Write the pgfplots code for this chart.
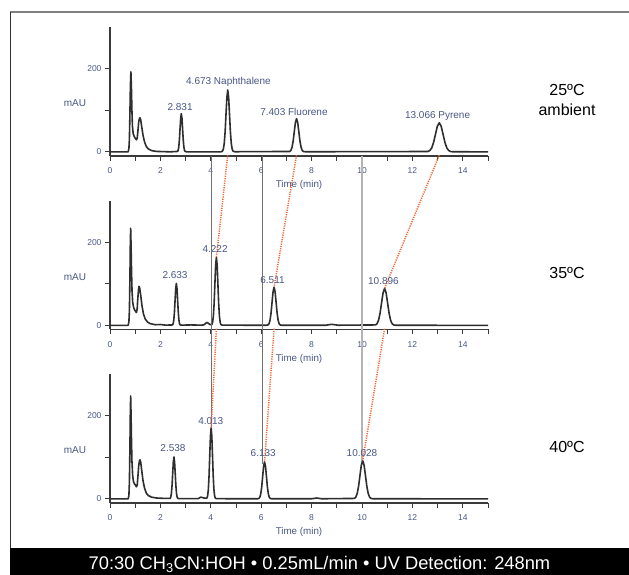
\documentclass[border=0pt]{standalone}
\usepackage{fontspec}
\setmainfont{Liberation Sans}
\usepackage{pgfplots}
\pgfplotsset{compat=1.18}
\definecolor{trace}{HTML}{2E2E2E}
\definecolor{lab}{HTML}{4A5785}
\definecolor{orng}{HTML}{F26B3A}
\definecolor{vgray}{HTML}{707070}
\definecolor{vlight}{HTML}{B4B4B4}
\definecolor{framegray}{HTML}{808080}
\definecolor{axisc}{HTML}{3A3A3A}
\pgfplotsset{chrom/.style={
  scale only axis, width=378pt, height=128.65pt,
  xmin=0, xmax=15, ymin=-10, ymax=300,
  axis x line*=bottom, axis y line*=left,
  axis line style={color=axisc, line width=1.2pt},
  xtick={0,2,...,14}, minor xtick={1,3,...,15},
  ytick={0,100,200}, yticklabels={0,,200},
  tick align=outside, major tick length=5pt, minor tick length=5pt,
  tick style={color=axisc, line width=1pt},
  ticklabel style={font=\fontsize{8.5}{9}\selectfont, text=lab},
  xticklabel style={yshift=-3.5pt},
  /pgf/number format/assume math mode=true,
  clip=false,
  xlabel={Time (min)},
  xlabel style={font=\fontsize{9.8}{10}\selectfont, text=lab, at={(axis description cs:0.5,0)}, anchor=center, yshift=-29pt},
  anchor=south west,
}}
\tikzset{ann/.style={font=\fontsize{10}{11}\selectfont, text=lab, anchor=center},
         tr/.style={color=trace, line width=1.6pt, line join=round, mark=none},
         orl/.style={color=orng, line width=1.5pt, dash pattern=on 1.2pt off 1.1pt, mark=none},
         right/.style={font=\fontsize{16}{17}\selectfont, anchor=base}}
\begin{document}
\begin{tikzpicture}
\useasboundingbox (0,0) rectangle (629pt,575pt);
\fill[white] (0,0) rectangle (629pt,575pt);
\draw[framegray, line width=1.5pt] (10pt,563pt) -- (629pt,563pt);
\draw[black!80, line width=1pt] (10pt,563pt) -- (10pt,27pt);
\fill[black] (10pt,0pt) rectangle (629pt,27pt);
\node[white, font=\fontsize{18.3}{19}\selectfont, anchor=base] at (319.5pt,5pt) {70:30 CH\textsubscript{3}CN:HOH • 0.25mL/min • UV Detection: 248nm};
\node[right] at (567pt,479.3pt) {25ºC};
\node[right] at (567pt,459pt) {ambient};
\node[right] at (567pt,296pt) {35ºC};
\node[right] at (567pt,122.7pt) {40ºC};

% Panel 1 (25 C)
\begin{axis}[chrom, at={(110pt,419pt)}]
\addplot[tr] coordinates {(0,0)(0.5,0)(0.72,0)(0.75,8)(0.77,30)(0.79,90)(0.81,160)(0.83,193)(0.85,155)(0.87,100)(0.89,62)(0.92,44)(0.96,37)(1.0,33)(1.05,29)(1.08,33)(1.11,52)(1.14,72)(1.17,81)(1.19,82)(1.22,77)(1.26,60)(1.31,40)(1.37,24)(1.44,13)(1.52,7)(1.65,3)(1.85,1)(2.4,0)
(2.68,1)(2.705,4)(2.73,12)(2.755,30)(2.78,56)(2.805,81)(2.83,92)(2.855,81)(2.88,56)(2.905,30)(2.93,12)(2.955,4)(2.98,1)(3.05,0)
(4.40,0)(4.463,1.7)(4.498,6.5)(4.533,20)(4.568,48)(4.603,90)(4.638,131)(4.673,149)(4.708,131)(4.743,90)(4.778,48)(4.813,20)(4.848,6.5)(4.883,1.7)(4.95,0.3)
(7.133,0.9)(7.178,3.5)(7.223,10.8)(7.268,26)(7.313,48.5)(7.358,70.6)(7.403,80)(7.448,70.6)(7.493,48.5)(7.538,26)(7.583,10.8)(7.628,3.5)(7.673,0.9)(7.75,0.2)
(12.616,0.8)(12.691,3.1)(12.766,9.5)(12.841,22.7)(12.916,42.5)(12.991,61.8)(13.066,70)(13.141,61.8)(13.216,42.5)(13.291,22.7)(13.366,9.5)(13.441,3.1)(13.516,0.8)(13.6,0.2)(15,0)};
\node[ann] at (axis cs:2.78,108) {2.831};
\node[ann] at (axis cs:4.7,169) {4.673 Naphthalene};
\node[ann] at (axis cs:7.3,96) {7.403 Fluorene};
\node[ann] at (axis cs:13.0,87) {13.066 Pyrene};
\node[ann] at (rel axis cs:0,0.41) [xshift=-35pt] {mAU};
\end{axis}

% Panel 2 (35 C)
\begin{axis}[chrom, at={(110pt,245.5pt)}]
\addplot[tr] coordinates {(0,0)(0.72,0)(0.75,8)(0.77,35)(0.79,110)(0.805,190)(0.82,234)(0.835,195)(0.855,130)(0.875,82)(0.9,56)(0.93,45)(0.97,38)(1.01,34)(1.05,31)(1.08,40)(1.1,62)(1.13,85)(1.15,94)(1.18,89)(1.22,72)(1.27,47)(1.33,27)(1.4,15)(1.49,8)(1.6,4)(1.8,1.5)(2.0,2)(2.2,0.5)
(2.483,1)(2.508,4.4)(2.533,13.7)(2.558,32.8)(2.583,61.3)(2.608,89)(2.633,101)(2.658,89)(2.683,61.3)(2.708,32.8)(2.733,13.7)(2.758,4.4)(2.783,1.1)(2.85,0.5)(3.2,1)(3.6,0.5)(3.72,1)(3.8,5)(3.85,7)(3.9,5)(3.96,2)
(4.042,2)(4.072,7.2)(4.102,22.2)(4.132,53.3)(4.162,99.5)(4.192,144.7)(4.222,164)(4.252,144.7)(4.282,99.5)(4.312,53.3)(4.342,22.2)(4.372,7.2)(4.402,1.8)(4.46,0.4)
(6.2,0.3)(6.271,1)(6.311,4)(6.351,12.4)(6.391,29.9)(6.431,55.8)(6.471,81.2)(6.511,92)(6.551,81.2)(6.591,55.8)(6.631,29.9)(6.671,12.4)(6.711,4)(6.751,1)(6.82,0.2)(8.55,0.2)(8.8,2.5)(9.05,0.3)
(10.536,1)(10.596,3.9)(10.656,12)(10.716,28.9)(10.776,54)(10.836,78.5)(10.896,89)(10.956,78.5)(11.016,54)(11.076,28.9)(11.136,12)(11.196,3.9)(11.256,1)(11.34,0.2)(15,0)};
\addplot[orl] coordinates {(4.673,410)(4.222,164)};
\addplot[orl] coordinates {(7.403,410)(6.511,92)};
\addplot[orl] coordinates {(13.066,410)(10.896,89)};
\node[ann] at (axis cs:2.58,120) {2.633};
\node[ann] at (axis cs:4.17,185) {4.222};
\node[ann] at (axis cs:6.45,109) {6.511};
\node[ann] at (axis cs:10.85,106) {10.896};
\node[ann] at (rel axis cs:0,0.41) [xshift=-35pt] {mAU};
\end{axis}

% Panel 3 (40 C)
\begin{axis}[chrom, at={(110pt,72pt)}]
\addplot[vgray, line width=1.3pt, mark=none] coordinates {(4.02,826)(4.02,165)};
\addplot[vgray, line width=1.3pt, mark=none] coordinates {(6.06,826)(6.06,85)};
\addplot[vlight, line width=1.3pt, mark=none] coordinates {(10.0,826)(10.0,88)};
\addplot[tr] coordinates {(0,0)(0.72,0)(0.75,8)(0.77,40)(0.79,120)(0.805,200)(0.82,248)(0.835,205)(0.85,150)(0.87,92)(0.9,56)(0.93,42)(0.97,36)(1.01,33)(1.05,29)(1.08,33)(1.11,56)(1.14,80)(1.17,92)(1.19,94)(1.22,88)(1.26,68)(1.31,44)(1.37,26)(1.44,14)(1.52,8)(1.65,4)(1.85,2)(2.2,1)
(2.388,1.1)(2.413,4.4)(2.438,13.7)(2.463,32.8)(2.488,61.3)(2.513,89)(2.538,101)(2.563,89)(2.588,61.3)(2.613,32.8)(2.638,13.7)(2.663,4.4)(2.688,1.1)(2.75,0.5)(3.5,0.5)(3.6,4)(3.68,3)(3.76,1.5)
(3.848,1.9)(3.8755,7.5)(3.903,23.1)(3.9305,55.5)(3.958,103.7)(3.9855,150.9)(4.013,171)(4.0405,150.9)(4.068,103.7)(4.0955,55.5)(4.123,23.1)(4.1505,7.5)(4.178,1.9)(4.23,0.4)
(5.85,0.2)(5.908,1)(5.9455,3.9)(5.983,12)(6.0205,28.9)(6.058,54)(6.0955,78.5)(6.133,89)(6.1705,78.5)(6.208,54)(6.2455,28.9)(6.283,12)(6.3205,3.9)(6.358,1)(6.42,0.2)(8.0,0.2)(8.2,2)(8.4,0.2)
(9.698,1)(9.753,4)(9.808,12.4)(9.863,29.9)(9.918,55.8)(9.973,81.2)(10.028,92)(10.083,81.2)(10.138,55.8)(10.193,29.9)(10.248,12.4)(10.303,4)(10.358,1)(10.44,0.2)(15,0)};
\addplot[orl] coordinates {(4.222,410)(4.013,171)};
\addplot[orl] coordinates {(6.511,410)(6.133,89)};
\addplot[orl] coordinates {(10.896,410)(10.028,92)};
\node[ann] at (axis cs:2.5,123) {2.538};
\node[ann] at (axis cs:4.0,188) {4.013};
\node[ann] at (axis cs:6.08,111) {6.133};
\node[ann] at (axis cs:10.0,111) {10.028};
\node[ann] at (rel axis cs:0,0.41) [xshift=-35pt] {mAU};
\end{axis}
\end{tikzpicture}
\end{document}
